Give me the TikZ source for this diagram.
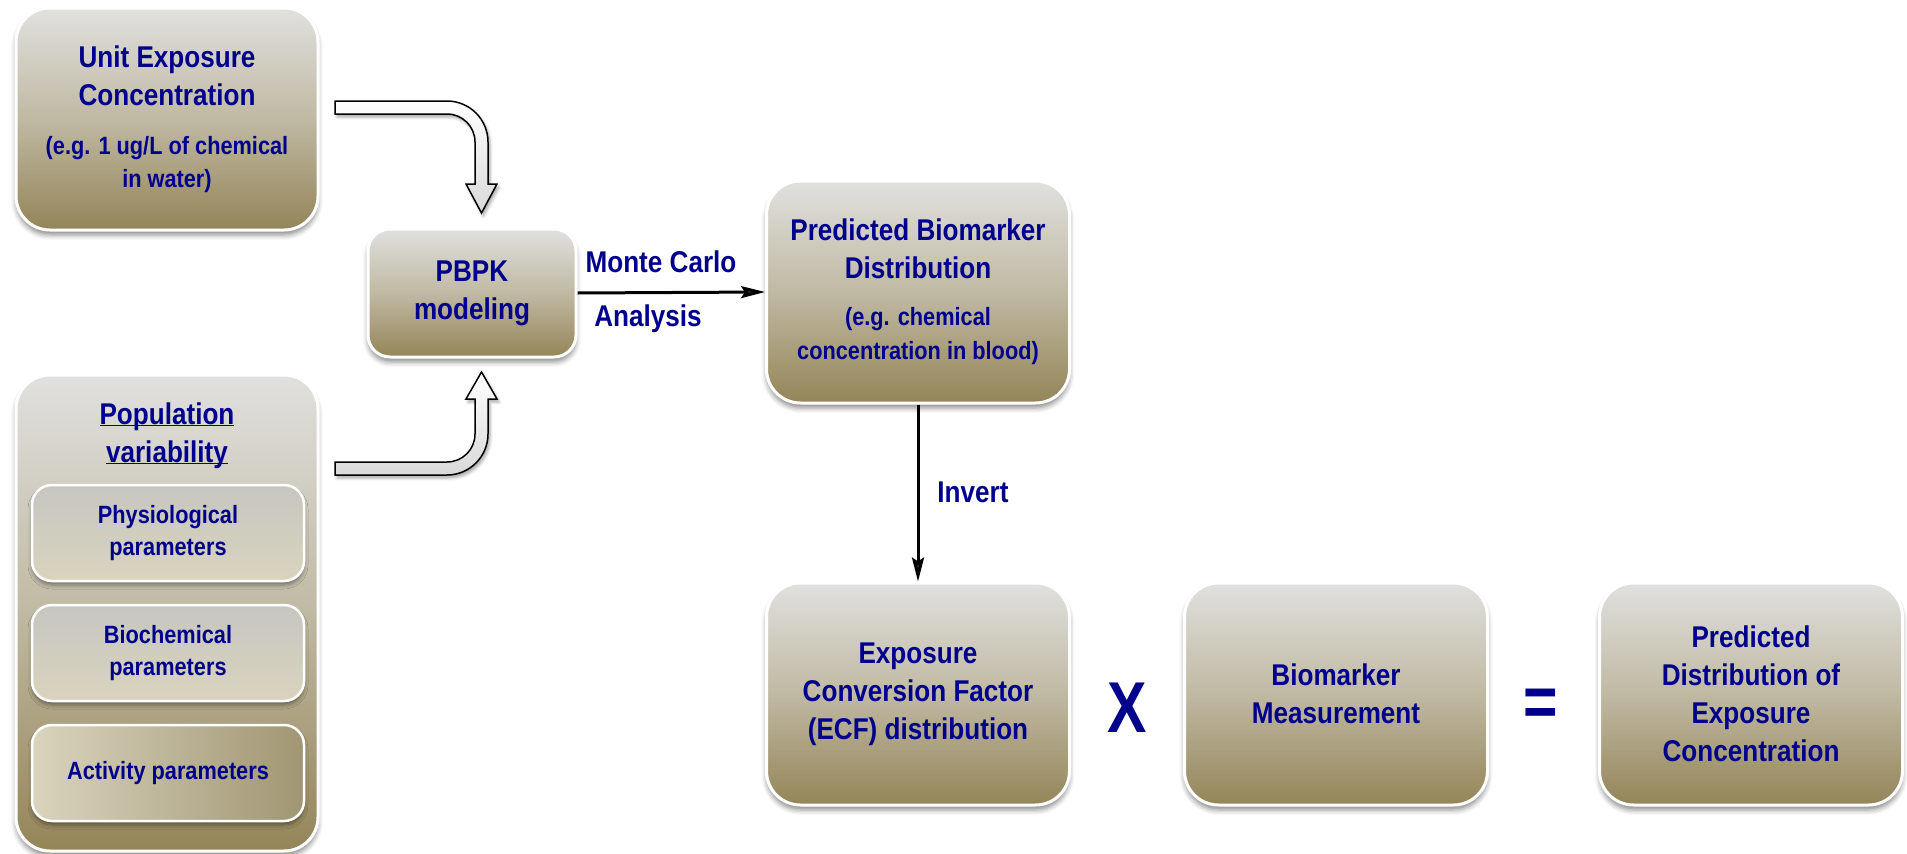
\documentclass[tikz,border=0pt]{standalone}
\usepackage{fontspec}
\setmainfont{Liberation Sans}
\newfontfamily\inkfont[FakeStretch=0.87]{Liberation Sans Bold}
\newfontfamily\narrowfont[FakeStretch=0.82]{Liberation Sans Bold}
\usetikzlibrary{arrows.meta,shadows.blur}

\definecolor{inktext}{RGB}{0,0,140}
\definecolor{boxtop}{RGB}{224,224,222}
\definecolor{boxmid}{RGB}{192,185,163}
\definecolor{boxbot}{RGB}{148,133,88}
\definecolor{partop}{RGB}{198,198,193}
\definecolor{parbot}{RGB}{218,212,190}
\definecolor{pardark}{RGB}{160,150,115}

\newcommand\stagefont{\inkfont\fontsize{30}{38}\selectfont}
\newcommand\subfont{\fontsize{25}{33}\selectfont}
\newcommand\parfont{\inkfont\fontsize{25}{32}\selectfont}
\newcommand\ulword[1]{\underline{\smash{#1}}}

\tikzset{
  stage/.style={rectangle, rounded corners=34pt, draw=white, line width=3pt,
    top color=boxtop, bottom color=boxbot, middle color=boxmid,
    minimum width=303pt, minimum height=222pt, inner sep=0pt,
    blur shadow={shadow xshift=0pt, shadow yshift=-5pt, shadow opacity=45, shadow blur radius=5pt},
    text=inktext, font=\stagefont, align=center},
  param/.style={rectangle, rounded corners=20pt, draw=white, line width=2.5pt,
    top color=partop, bottom color=parbot,
    minimum width=272pt, minimum height=96pt, inner sep=0pt,
    blur shadow={shadow xshift=0pt, shadow yshift=-4pt, shadow opacity=40, shadow blur radius=4pt},
    text=inktext, font=\parfont, align=center},
  bendarrow/.style={draw=black, line width=1.5pt, top color=white, bottom color=gray!30,
    blur shadow={shadow xshift=2pt, shadow yshift=-3pt, shadow opacity=35, shadow blur radius=3pt}},
  flow/.style={line width=3pt, -{Stealth[length=24pt, width=12pt, inset=4pt]}},
  lbl/.style={text=inktext, font=\stagefont},
  sign/.style={text=inktext, font=\narrowfont\fontsize{72}{72}\selectfont}
}

\begin{document}
\begin{tikzpicture}[x=1pt, y=-1pt]
\useasboundingbox (0,0) rectangle (1907,854);

% inputs
\node[stage, minimum width=302pt] (unit) at (167,119)
  {Unit Exposure\\Concentration\\[11pt]\subfont (e.g. 1 ug/L of chemical\\[-5pt]\subfont in water)};
\node[stage, minimum width=302pt, minimum height=476pt] (pop) at (167,613) {};
\node[text=inktext, font=\stagefont, align=center] (poptitle) at (167,444)
  {\ulword{Population}\\\ulword{variability}};
\node[param] (physio) at (168,533) {Physiological\\parameters};
\node[param] (biochem) at (168,653) {Biochemical\\parameters};
\node[param, left color=parbot, right color=pardark] (activity) at (168,773) {Activity parameters};

% model
\node[stage, minimum width=208pt, minimum height=128pt, rounded corners=22pt] (pbpk) at (472,293)
  {PBPK\\modeling};

% bent block arrows into the model
\draw[bendarrow] (335,101) -- (447,101) .. controls (469.6,101) and (488,119.4) .. (488,142)
  -- (488,184) -- (497,184) -- (481.5,213) -- (466,184) -- (475,184) -- (475,142)
  .. controls (475,126.5) and (462.5,114) .. (447,114) -- (335,114) -- cycle;
\draw[bendarrow] (335,475) -- (447,475) .. controls (469.6,475) and (488,456.6) .. (488,434)
  -- (488,399) -- (497,399) -- (481.5,372) -- (466,399) -- (475,399) -- (475,434)
  .. controls (475,449.5) and (462.5,462) .. (447,462) -- (335,462) -- cycle;

% results
\node[stage] (predbio) at (918,292)
  {Predicted Biomarker\\Distribution\\[9pt]\subfont (e.g. chemical\\[-4pt]\subfont concentration in blood)};
\node[stage] (ecf) at (918,694) {Exposure\\Conversion Factor\\(ECF) distribution};
\node[stage] (meas) at (1336,694) {Biomarker\\Measurement};
\node[stage] (predexp) at (1751,694) {Predicted\\Distribution of\\Exposure\\Concentration};

\node[sign] (times) at (1127,708) {X};
\node[sign] (equals) at (1541,708) {=};

\draw[flow] (pbpk.east) -- (predbio.west);
\node[lbl] (mc) at (661,262) {Monte Carlo};
\node[lbl] (analysis) at (648,319) {Analysis};

\draw[flow] (predbio.south) -- (ecf.north);
\node[lbl] (invert) at (973,492) {Invert};

\end{tikzpicture}
\end{document}
